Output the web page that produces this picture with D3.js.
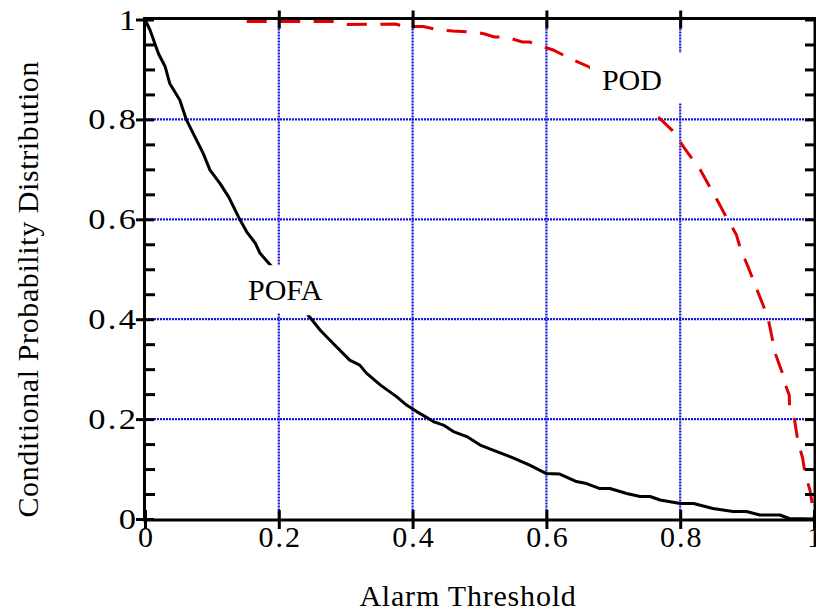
<!DOCTYPE html>
<html>
<head>
<meta charset="utf-8">
<script src="https://cdn.jsdelivr.net/npm/d3@7"></script>
<style>
  html, body { margin: 0; padding: 0; background: #fff; }
  svg { display: block; }
  text { font-family: "Liberation Serif", "Times New Roman", serif; fill: #000; }
</style>
</head>
<body>
<svg id="chart" width="816" height="612"></svg>
<script>
// Alarm threshold on x; conditional probability on y
const xTickValues = [0, 0.2, 0.4, 0.6, 0.8, 1];
const xTickLabels = ["0", "0.2", "0.4", "0.6", "0.8", "1"];
const yTickValues = [0, 0.2, 0.4, 0.6, 0.8, 1];
const yTickLabels = ["0", "0.2", "0.4", "0.6", "0.8", "1"];
const yMinorTicks = [0.05, 0.1, 0.15, 0.25, 0.3, 0.35, 0.45, 0.5, 0.55, 0.65, 0.7, 0.75, 0.85, 0.9, 0.95];
const gridValues = [0.2, 0.4, 0.6, 0.8];

// Probability of false alarm
const pofaX = [0, 0.0075, 0.020, 0.030, 0.037, 0.052, 0.062, 0.072, 0.087, 0.097, 0.112, 0.125,
  0.142, 0.152, 0.165, 0.172, 0.187, 0.244, 0.262, 0.281, 0.306, 0.321, 0.331, 0.352, 0.376,
  0.391, 0.406, 0.419, 0.431, 0.446, 0.461, 0.481, 0.501, 0.526, 0.551, 0.575, 0.600, 0.620,
  0.645, 0.660, 0.680, 0.695, 0.720, 0.740, 0.755, 0.770, 0.800, 0.820, 0.849, 0.879, 0.899,
  0.919, 0.949, 0.963, 1.0];
const pofaY = [1, 0.979, 0.932, 0.906, 0.872, 0.839, 0.799, 0.772, 0.732, 0.699, 0.672, 0.645,
  0.599, 0.575, 0.552, 0.532, 0.509, 0.408, 0.378, 0.352, 0.318, 0.308, 0.292, 0.268, 0.245,
  0.228, 0.215, 0.205, 0.195, 0.188, 0.175, 0.165, 0.148, 0.135, 0.122, 0.108, 0.091, 0.090,
  0.075, 0.071, 0.061, 0.061, 0.051, 0.045, 0.045, 0.038, 0.031, 0.031, 0.021, 0.015, 0.015,
  0.008, 0.008, 0.001, 0.0];

// Probability of detection
const podX = [0.152, 0.284, 0.303, 0.374, 0.389, 0.416, 0.436, 0.460, 0.492, 0.508, 0.522, 0.540,
  0.564, 0.575, 0.587, 0.610, 0.640, 0.664, 0.767, 0.789, 0.806, 0.830, 0.855, 0.867, 0.884,
  0.892, 0.897, 0.902, 0.912, 0.924, 0.932, 0.937, 0.943, 0.952, 0.959, 0.963, 0.9635, 0.971,
  0.976, 0.983, 0.987, 0.994, 0.998, 1.0];
const podY = [0.996, 0.996, 0.990, 0.991, 0.986, 0.986, 0.980, 0.977, 0.975, 0.971, 0.965, 0.965,
  0.955, 0.955, 0.949, 0.939, 0.919, 0.905, 0.805, 0.777, 0.743, 0.699, 0.639, 0.609, 0.569,
  0.532, 0.519, 0.503, 0.468, 0.428, 0.398, 0.365, 0.328, 0.295, 0.262, 0.248, 0.225, 0.198,
  0.155, 0.122, 0.088, 0.058, 0.025, 0.0];

// Curve labels, anchored in data space at the text's start/baseline
const curveLabels = ["POD", "POFA"];
const labelX = [0.683, 0.154];
const labelY = [0.859, 0.438];

const svg = d3.select("#chart");
const x = d3.scaleLinear().domain([0, 1]).range([145, 814]);
const y = d3.scaleLinear().domain([0, 1]).range([519, 19.5]);

const FONT = 30;
const gridColor = "#1616dc";

// mask used to keep the curves clear of the label areas
const defs = svg.append("defs");
const mask = defs.append("mask").attr("id", "labelCut").attr("maskUnits", "userSpaceOnUse")
  .attr("x", 0).attr("y", 0).attr("width", 816).attr("height", 612);
mask.append("rect").attr("width", 816).attr("height", 612).attr("fill", "#fff");

// grid
const grid = svg.append("g");
grid.selectAll("line.v").data(gridValues).join("line")
  .attr("x1", d => x(d)).attr("x2", d => x(d))
  .attr("y1", y(1)).attr("y2", y(0))
  .attr("stroke", gridColor).attr("stroke-width", 2.2).attr("stroke-dasharray", "2,1");
grid.selectAll("line.h").data(gridValues).join("line")
  .attr("y1", d => y(d)).attr("y2", d => y(d))
  .attr("x1", x(0)).attr("x2", x(1))
  .attr("stroke", gridColor).attr("stroke-width", 2.2).attr("stroke-dasharray", "2,1");

// label texts (measured first, then boxes and curves are layered around them)
const labelLayer = svg.append("g");
const pads = [{l: 12, r: 26, t: 10, b: 7, cb: 20}, {l: 12, r: 26, t: 8, b: 7, cb: 9}];
const labelNodes = curveLabels.map((t, i) => labelLayer.append("text")
  .attr("x", x(labelX[i])).attr("y", y(labelY[i]))
  .attr("font-size", FONT).text(t));

const whiteBoxes = svg.append("g");
labelNodes.forEach((n, i) => {
  const bb = n.node().getBBox();
  const p = pads[i];
  whiteBoxes.append("rect")
    .attr("x", bb.x - p.l).attr("y", bb.y - p.t)
    .attr("width", bb.width + p.l + p.r).attr("height", bb.height + p.t + p.b)
    .attr("fill", "#fff");
  mask.append("rect")
    .attr("x", bb.x - p.l).attr("y", bb.y - p.t)
    .attr("width", bb.width + p.l + p.r).attr("height", bb.height + p.t + p.cb)
    .attr("fill", "#000");
});

// curves
const curves = svg.append("g").attr("mask", "url(#labelCut)");
const line = d3.line().x(d => x(d[0])).y(d => y(d[1]));
curves.append("path")
  .datum(pofaX.map((v, i) => [v, pofaY[i]]))
  .attr("d", line).attr("fill", "none")
  .attr("stroke", "#000").attr("stroke-width", 3).attr("stroke-linejoin", "round");
curves.append("path")
  .datum(podX.map((v, i) => [v, podY[i]]))
  .attr("d", line).attr("fill", "none")
  .attr("stroke", "#e00000").attr("stroke-width", 3)
  .attr("stroke-dasharray", "20,13.5");

// frame
const frame = svg.append("g").attr("stroke", "#000").attr("stroke-width", 3).attr("fill", "none");
frame.append("rect")
  .attr("x", x(0) - 0.5).attr("y", y(1) - 1)
  .attr("width", x(1) - x(0) + 1.5).attr("height", y(0) - y(1) + 2);

// axes: major ticks cross the frame, minor ticks point inward
function styleAxis(g) {
  g.select(".domain").remove();
  g.selectAll(".tick line").attr("stroke", "#000").attr("stroke-width", 3);
}

const leftAxis = svg.append("g").attr("transform", `translate(${x(0)},0)`)
  .call(d3.axisLeft(y).tickValues(yTickValues).tickFormat((d, i) => yTickLabels[i])
    .tickSize(9).tickPadding(0))
  .call(styleAxis);
leftAxis.selectAll(".tick line").attr("x1", 9);
leftAxis.selectAll(".tick text")
  .attr("font-size", FONT).attr("font-family", null)
  .attr("letter-spacing", 2)
  .attr("dy", null).attr("x", 2).attr("y", 0)
  .attr("transform", "translate(-9,9.5) scale(1.15,1)");

svg.append("g").attr("transform", `translate(${x(0)},0)`)
  .call(d3.axisRight(y).tickValues(yMinorTicks).tickSize(10).tickFormat(""))
  .call(styleAxis);

svg.append("g").attr("transform", `translate(${x(1)},0)`)
  .call(d3.axisLeft(y).tickValues(yTickValues.concat(yMinorTicks)).tickSize(9).tickFormat(""))
  .call(styleAxis);

const bottomAxis = svg.append("g").attr("transform", `translate(0,${y(0)})`)
  .call(d3.axisBottom(x).tickValues(xTickValues).tickFormat((d, i) => xTickLabels[i])
    .tickSize(10).tickPadding(0))
  .call(styleAxis);
bottomAxis.selectAll(".tick line").attr("y1", -9);
bottomAxis.selectAll(".tick text")
  .attr("font-size", FONT).attr("font-family", null)
  .attr("letter-spacing", 2)
  .attr("x", 1)
  .attr("dy", null).attr("y", 28);

const topAxis = svg.append("g").attr("transform", `translate(0,${y(1)})`)
  .call(d3.axisTop(x).tickValues(gridValues).tickSize(9).tickFormat(""))
  .call(styleAxis);
topAxis.selectAll(".tick line").attr("y1", 9);

// bring label text above everything
svg.node().appendChild(labelLayer.node());

// axis titles
svg.append("text")
  .attr("x", 468).attr("y", 606)
  .attr("text-anchor", "middle").attr("font-size", FONT)
  .attr("letter-spacing", 0.8)
  .text("Alarm Threshold");
svg.append("text")
  .attr("transform", `translate(38,${(y(0) + y(1)) / 2 + 20}) rotate(-90)`)
  .attr("text-anchor", "middle").attr("font-size", FONT)
  .attr("letter-spacing", 0.6)
  .text("Conditional Probability Distribution");
</script>
</body>
</html>
